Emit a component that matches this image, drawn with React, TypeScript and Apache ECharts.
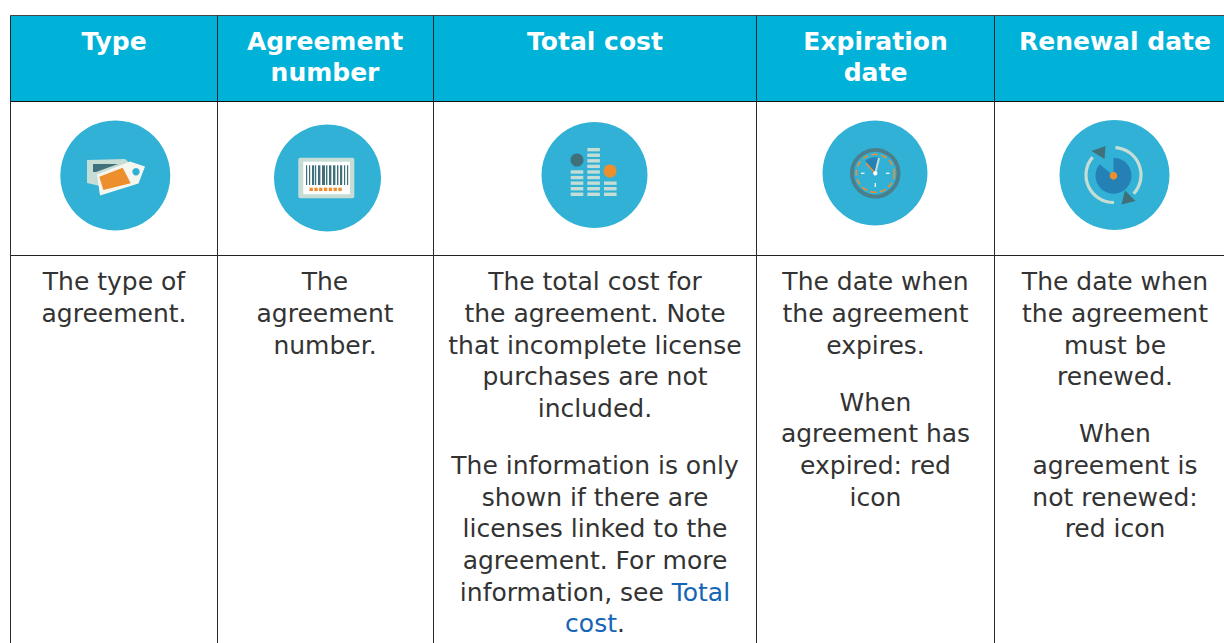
import React, { useEffect, useRef } from "react";
import * as echarts from "echarts";

const headers = [
  ["Type"],
  ["Agreement", "number"],
  ["Total cost"],
  ["Expiration", "date"],
  ["Renewal date"],
];
const columnEdges = [10.5, 217.5, 433.5, 756.5, 994.5, 1240];
const columnCenters = [114, 325, 595, 875.5, 1115];
const rowEdges = [15.5, 101.5, 255.5];

const bodyText: [number, number, string][][] = [
  [[0, 281, "The type of"], [0, 313, "agreement."]],
  [[1, 281, "The"], [1, 313, "agreement"], [1, 345, "number."]],
  [
    [2, 281, "The total cost for"], [2, 313, "the agreement. Note"], [2, 345, "that incomplete license"],
    [2, 376, "purchases are not"], [2, 408, "included."], [2, 465, "The information is only"],
    [2, 497, "shown if there are"], [2, 528, "licenses linked to the"], [2, 560, "agreement. For more"],
    [2, 592, "information, see {l|Total}"], [2, 623, "{l|cost}."],
  ],
  [
    [3, 281, "The date when"], [3, 313, "the agreement"], [3, 345, "expires."],
    [3, 402, "When"], [3, 433, "agreement has"], [3, 465, "expired: red"], [3, 497, "icon"],
  ],
  [
    [4, 281, "The date when"], [4, 313, "the agreement"], [4, 345, "must be"], [4, 376, "renewed."],
    [4, 433, "When"], [4, 465, "agreement is"], [4, 497, "not renewed:"], [4, 528, "red icon"],
  ],
];

const iconDiscs = [
  [115.3, 175.5, 55],
  [327.5, 178, 53.5],
  [594.5, 175, 53],
  [875, 173, 52.5],
  [1114.5, 175, 55],
];
const barcodeBars = [306, 309, 312, 315, 318, 322, 326, 329, 333, 337, 340, 344, 347];
const barcodeWidths = [1.2, 1.2, 2.2, 1.2, 2.4, 3, 1.4, 2.4, 2.4, 1.4, 2.2, 1.2, 1.2];
const barcodeDots = [309.5, 314.3, 319.1, 323.9, 328.7, 333.5, 338.3];
const levelColumns = [
  [570.7, 5],
  [587.3, 9],
  [604, 3],
];

const DISC = "#30B1D5";
const PALE = "#C5DDD5";
const DARK = "#40707A";
const ORANGE = "#EE8F2E";
const BLUE = "#2580B5";
const TAG = "#F6F6F1";
const FONT = "'DejaVu Sans', Verdana, sans-serif";
const SIZE = 25;

function buildGraphics() {
  const g: any[] = [];
  g.push({ type: "rect", shape: { x: columnEdges[0], y: rowEdges[0], width: 1224, height: rowEdges[1] - rowEdges[0] }, style: { fill: "#00B2D8" } });

  const line = (x1: number, y1: number, x2: number, y2: number, stroke = "#222") =>
    g.push({ type: "line", shape: { x1, y1, x2, y2 }, style: { stroke, lineWidth: 1 } });
  line(columnEdges[0], rowEdges[0], 1224, rowEdges[0], "#444");
  line(columnEdges[0], rowEdges[1], 1224, rowEdges[1], "#111");
  line(columnEdges[0], rowEdges[2], 1224, rowEdges[2], "#222");
  columnEdges.slice(0, 5).forEach((x) => {
    line(x, rowEdges[0], x, rowEdges[1], "#142a33");
    line(x, rowEdges[1], x, 643, "#2a2a2a");
  });

  headers.forEach((lines, i) =>
    lines.forEach((t, j) =>
      g.push({
        type: "text",
        x: columnCenters[i],
        y: 41.5 + j * 31,
        style: { text: t, fill: "#fff", font: `bold ${SIZE}px ${FONT}`, textAlign: "center", textVerticalAlign: "middle" },
      })
    )
  );

  bodyText.flat().forEach(([c, y, t]) =>
    g.push({
      type: "text",
      x: columnCenters[c],
      y,
      style: {
        text: t,
        fill: "#333",
        fontFamily: "DejaVu Sans",
        fontSize: SIZE,
        textAlign: "center",
        textVerticalAlign: "middle",
        rich: { l: { fill: "#1565B8", fontFamily: "DejaVu Sans", fontSize: SIZE } },
      },
    })
  );

  iconDiscs.forEach(([cx, cy, r]) => g.push({ type: "circle", shape: { cx, cy, r }, style: { fill: DISC } }));

  // price tags
  g.push({ type: "polygon", shape: { points: [[87, 160], [125, 159], [132, 165], [100, 186], [87, 183]] }, style: { fill: PALE } });
  g.push({ type: "polygon", shape: { points: [[93, 164], [118, 164], [96, 172], [93, 172]] }, style: { fill: DARK } });
  g.push({ type: "polygon", shape: { points: [[97, 174.5], [130, 161.5], [145, 166.5], [138.5, 183.5], [100, 195.5]] }, style: { fill: TAG } });
  g.push({ type: "polygon", shape: { points: [[99.3, 176.7], [122.7, 167.7], [130.7, 183.3], [103.3, 190]] }, style: { fill: ORANGE } });
  g.push({ type: "circle", shape: { cx: 136, cy: 171.7, r: 3.7 }, style: { fill: DISC } });

  // barcode
  g.push({ type: "rect", shape: { x: 298.3, y: 157.7, width: 56, height: 40.6, r: 2 }, style: { fill: PALE } });
  g.push({ type: "rect", shape: { x: 303.3, y: 161.7, width: 46.7, height: 32.6 }, style: { fill: "#fff" } });
  barcodeBars.forEach((x, i) => g.push({ type: "rect", shape: { x, y: 165.3, width: barcodeWidths[i], height: 19.7 }, style: { fill: DARK } }));
  barcodeDots.forEach((x) => g.push({ type: "rect", shape: { x, y: 187.7, width: 3.4, height: 3.4 }, style: { fill: ORANGE } }));

  // level bars
  levelColumns.forEach(([x, n]) => {
    for (let k = 0; k < n; k++) g.push({ type: "rect", shape: { x, y: 192.6 - k * 5.58, width: 12.6, height: 3.4 }, style: { fill: PALE } });
  });
  g.push({ type: "circle", shape: { cx: 577, cy: 160, r: 6.5 }, style: { fill: DARK } });
  g.push({ type: "circle", shape: { cx: 610, cy: 171, r: 6.5 }, style: { fill: ORANGE } });

  // clock
  const cx = 875.3, cy = 173.3;
  g.push({ type: "circle", shape: { cx, cy, r: 23.3 }, style: { fill: DISC, stroke: "#4B7F8B", lineWidth: 4 } });
  g.push({ type: "circle", shape: { cx, cy, r: 19 }, style: { fill: "none", stroke: ORANGE, lineWidth: 1.6, lineDash: [6, 3.5] } });
  g.push({ type: "sector", shape: { cx, cy, r: 16, r0: 0, startAngle: -2.25, endAngle: -1.3, clockwise: true }, style: { fill: BLUE } });
  g.push({ type: "line", shape: { x1: cx, y1: cy, x2: 879, y2: 158 }, style: { stroke: PALE, lineWidth: 2 } });
  g.push({ type: "line", shape: { x1: cx, y1: cy, x2: 866, y2: 163.3 }, style: { stroke: ORANGE, lineWidth: 1.6 } });
  [[861, 173.3, 864.5, 173.3], [886, 173.3, 889.5, 173.3], [875.3, 183, 875.3, 187]].forEach(([x1, y1, x2, y2]) =>
    g.push({ type: "line", shape: { x1, y1, x2, y2 }, style: { stroke: "#E8F4F2", lineWidth: 1.4 } })
  );
  g.push({ type: "circle", shape: { cx, cy, r: 2.2 }, style: { fill: "#fff" } });

  // renewal
  const rx = 1113.5, ry = 175;
  g.push({ type: "arc", shape: { cx: rx, cy: ry, r: 27.5, startAngle: -1.5, endAngle: 0.75, clockwise: true }, style: { stroke: PALE, lineWidth: 3.2, fill: "none" } });
  g.push({ type: "arc", shape: { cx: rx, cy: ry, r: 27.5, startAngle: 1.55, endAngle: 3.85, clockwise: true }, style: { stroke: PALE, lineWidth: 3.2, fill: "none" } });
  g.push({ type: "sector", shape: { cx: rx, cy: ry + 0.7, r: 18, r0: 0, startAngle: -1.57, endAngle: -2.45 + Math.PI * 2, clockwise: true }, style: { fill: BLUE } });
  g.push({ type: "circle", shape: { cx: rx, cy: ry + 0.7, r: 3.8 }, style: { fill: ORANGE } });
  g.push({ type: "polygon", shape: { points: [[1091.5, 151], [1105.5, 146], [1104.5, 159]] }, style: { fill: DARK } });
  g.push({ type: "polygon", shape: { points: [[1121.5, 204.5], [1135.5, 201], [1125, 190.5]] }, style: { fill: DARK } });

  return g;
}

export default function App() {
  const ref = useRef<HTMLDivElement>(null);
  useEffect(() => {
    const chart = echarts.init(ref.current!, undefined, { renderer: "svg" });
    chart.setOption({ animation: false, backgroundColor: "#fff", graphic: { elements: buildGraphics() } });
    return () => chart.dispose();
  }, []);
  return <div ref={ref} style={{ position: "absolute", left: 0, top: 0, width: 1224, height: 643 }} />;
}
